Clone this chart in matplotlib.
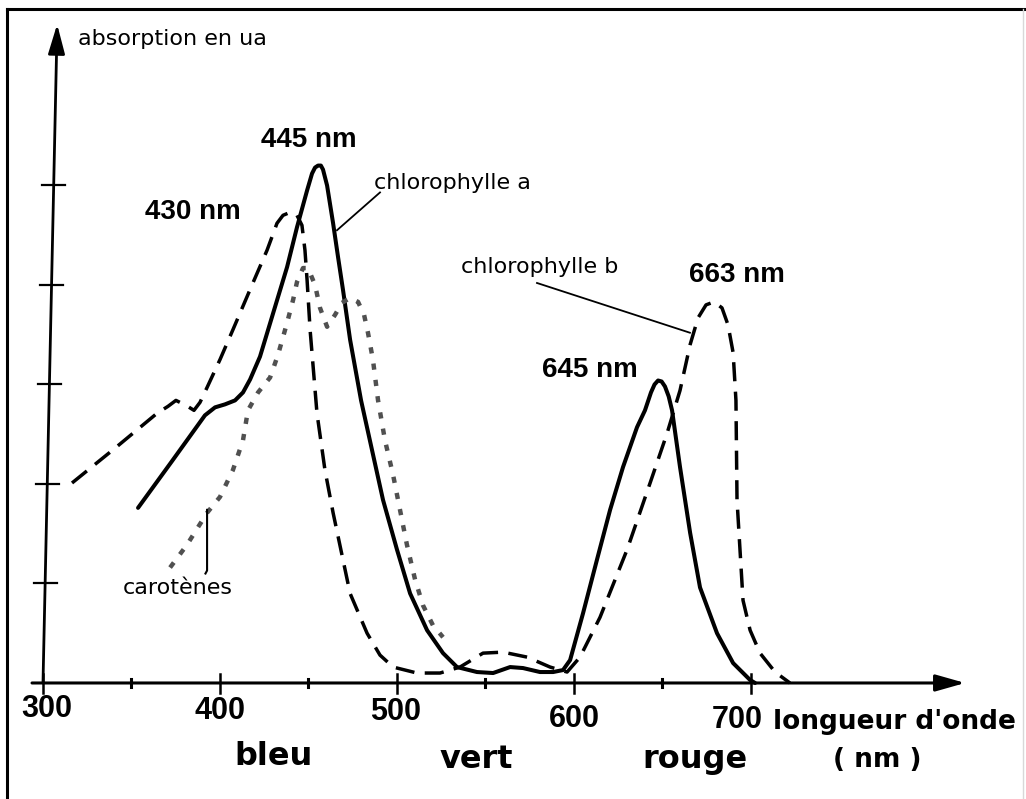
import matplotlib
matplotlib.use("Agg")
import matplotlib.pyplot as plt
from matplotlib.lines import Line2D

# --- data (wavelength in nm, absorption in ua = y tick units) ---

# chlorophylle a (solid line)
CHLA_NM = [353.7, 372.9, 391.5, 397.2, 402.8, 408.5, 413.0, 417.0, 422.6, 431.1,
           437.9, 443.5, 449.2, 452.0, 453.7, 455.4, 457.0, 458.2, 460.5, 463.9,
           466.7, 469.5, 473.5, 479.7, 485.9, 492.1, 500.0, 507.4, 517.0, 526.0,
           533.9, 545.2, 554.3, 563.9, 571.2, 580.8, 588.2, 593.8, 597.8, 605.1,
           613.0, 620.4, 627.7, 635.6, 640.1, 643.5, 645.5, 647.5, 649.5, 651.4,
           653.5, 655.4, 659.9, 665.6, 671.2, 680.8, 689.9, 699.5, 702.3]
CHLA_ABS = [1.76, 2.23, 2.69, 2.77, 2.80, 2.84, 2.92, 3.05, 3.28, 3.78,
            4.18, 4.58, 4.95, 5.12, 5.18, 5.20, 5.20, 5.16, 5.00, 4.62,
            4.28, 3.95, 3.45, 2.84, 2.34, 1.84, 1.34, 0.90, 0.53, 0.30,
            0.16, 0.11, 0.10, 0.16, 0.15, 0.11, 0.11, 0.13, 0.23, 0.70,
            1.24, 1.74, 2.17, 2.57, 2.74, 2.92, 3.00, 3.04, 3.03, 2.98,
            2.88, 2.74, 2.17, 1.51, 0.96, 0.50, 0.20, 0.03, 0.0]

# chlorophylle b (dashed line)
CHLB_NM = [316.4, 340.7, 364.4, 370.6, 375.1, 380.8, 385.3, 388.7, 392.7, 400.0,
           407.3, 418.1, 426.6, 432.2, 435.6, 439.6, 443.5, 446.3, 448.0, 449.2,
           450.9, 454.8, 459.3, 463.9, 473.5, 483.1, 490.4, 497.8, 511.3, 524.3,
           535.6, 548.6, 559.9, 573.5, 586.5, 596.1, 603.4, 614.7, 630.0, 643.0,
           652.6, 659.9, 665.6, 670.1, 674.6, 679.1, 683.6, 687.0, 689.9, 691.5,
           692.1, 695.5, 699.5, 705.1, 713.6, 722.0]
CHLB_ABS = [2.01, 2.36, 2.71, 2.78, 2.84, 2.79, 2.74, 2.82, 2.97, 3.25,
            3.55, 4.00, 4.35, 4.62, 4.70, 4.73, 4.70, 4.60, 4.35, 4.05,
            3.55, 2.71, 2.14, 1.71, 0.90, 0.50, 0.28, 0.16, 0.10, 0.10,
            0.16, 0.30, 0.31, 0.26, 0.16, 0.11, 0.26, 0.66, 1.34, 2.01,
            2.51, 2.94, 3.40, 3.67, 3.80, 3.83, 3.77, 3.60, 3.32, 2.84,
            1.84, 0.83, 0.53, 0.30, 0.11, 0.0]

# carotènes (grey dotted line)
CARO_NM = [371.8, 381.4, 392.7, 400.0, 407.3, 413.0, 415.8, 421.5, 428.3, 432.8,
           437.9, 441.3, 443.5, 446.9, 449.7, 453.7, 456.5, 460.5, 465.0, 468.9,
           473.5, 478.0, 481.4, 483.6, 486.4, 489.3, 493.2, 497.8, 501.7, 505.6,
           510.2, 514.7, 520.3, 526.0]
CARO_ABS = [1.16, 1.39, 1.71, 1.87, 2.14, 2.44, 2.74, 2.92, 3.07, 3.30,
            3.62, 3.85, 4.03, 4.17, 4.17, 4.00, 3.77, 3.58, 3.70, 3.82,
            3.87, 3.83, 3.70, 3.52, 3.25, 2.84, 2.44, 2.09, 1.74, 1.39,
            1.04, 0.78, 0.58, 0.46]

X_MAJOR = [300, 400, 500, 600, 700]
X_MINOR = [350, 450, 550, 650]
Y_TICKS = [1, 2, 3, 4, 5]
TICK_LABELS = ["300", "400", "500", "600", "700"]
TICK_LABEL_X = [302, 400, 499, 600, 692]
TICK_LABEL_Y = [-0.26, -0.28, -0.29, -0.36, -0.37]

PEAK_LABELS = [("445 nm", 450.0, 5.46), ("430 nm", 384.7, 4.73),
               ("663 nm", 692.1, 4.10), ("645 nm", 609.0, 3.15)]
COLOR_LABELS = [("bleu", 430.5, -0.74), ("vert", 544.6, -0.77), ("rouge", 668.4, -0.77)]

SANS = ["DejaVu Sans"]
ARIAL = ["Liberation Sans", "DejaVu Sans"]

fig = plt.figure(figsize=(10.26, 7.99), dpi=100)
ax = fig.add_axes([0, 0, 1, 1])
ax.set_xlim(275.71, 855.37)
ax.set_ylim(-1.166, 6.864)
ax.axis("off")

# frame of the scanned picture (left and top edges)
fig.add_artist(Line2D([7 / 1026, 7 / 1026], [0, 1 - 9 / 799], transform=fig.transFigure,
                      color="black", lw=2.2))
fig.add_artist(Line2D([7 / 1026, 1], [1 - 9 / 799, 1 - 9 / 799], transform=fig.transFigure,
                      color="black", lw=2.2))
fig.add_artist(Line2D([1023 / 1026, 1023 / 1026], [0, 1 - 9 / 799], transform=fig.transFigure,
                      color="#d8d8d8", lw=1.0))

# axes drawn by hand: slightly leaning y axis, x axis with arrow
y_top = 6.62
y_lean = 8.0
ax.annotate("", xy=(300 + y_lean, y_top), xytext=(300, 0),
            arrowprops=dict(arrowstyle="-|>,head_length=0.6,head_width=0.17",
                            mutation_scale=30, lw=2.0, color="black",
                            shrinkA=0, shrinkB=0))
ax.annotate("", xy=(821, 0), xytext=(293.8, 0),
            arrowprops=dict(arrowstyle="-|>,head_length=0.6,head_width=0.17",
                            mutation_scale=30, lw=2.2, color="black",
                            shrinkA=0, shrinkB=0))
for t in Y_TICKS:
    xc = 300 + y_lean * t / y_top
    ax.plot([xc - 6.5, xc + 6.5], [t, t], color="black", lw=1.6)
for t in X_MAJOR:
    ax.plot([t, t], [-0.1, 0.09], color="black", lw=1.8)
for t in X_MINOR:
    ax.plot([t, t], [-0.04, 0.04], color="black", lw=2.2)

for s, x, y in zip(TICK_LABELS, TICK_LABEL_X, TICK_LABEL_Y):
    ax.text(x, y, s, ha="center", va="center", fontsize=22, fontweight="bold",
            family=ARIAL)

# spectra
ax.plot(CHLA_NM, CHLA_ABS, color="black", lw=2.9, solid_joinstyle="round",
        solid_capstyle="round")
ax.plot(CHLB_NM, CHLB_ABS, color="black", lw=2.5, dashes=(5.5, 3.0),
        dash_joinstyle="round")
ax.plot(CARO_NM, CARO_ABS, color="#505050", lw=3.2, dashes=(1.4, 2.3))

# peak labels
for s, x, y in PEAK_LABELS:
    ax.text(x, y, s, ha="center", va="center", fontsize=20, fontweight="bold",
            family=ARIAL)

# pigment names with leader lines
ax.text(531.6, 5.02, "chlorophylle a", ha="center", va="center", fontsize=16, family=SANS)
ax.plot([490.4, 466.1], [4.93, 4.55], color="black", lw=1.3)
ax.text(580.8, 4.18, "chlorophylle b", ha="center", va="center", fontsize=16, family=SANS)
ax.plot([579.1, 665.5], [4.02, 3.52], color="black", lw=1.3)
ax.text(376.3, 0.95, "carotènes", ha="center", va="center", fontsize=16, family=SANS)
ax.plot([392.7, 392.7, 391.8], [1.74, 1.13, 1.10], color="black", lw=1.5)

ax.text(319.8, 6.47, "absorption en ua", ha="left", va="center", fontsize=16, family=SANS)
ax.text(712.4, -0.39, "longueur d'onde", ha="left", va="center", fontsize=19,
        fontweight="bold", family=SANS)
ax.text(771.2, -0.77, "( nm )", ha="center", va="center", fontsize=19,
        fontweight="bold", family=SANS)
for s, x, y in COLOR_LABELS:
    ax.text(x, y, s, ha="center", va="center", fontsize=23, fontweight="bold", family=SANS)

fig.savefig("out.png", dpi=100)
